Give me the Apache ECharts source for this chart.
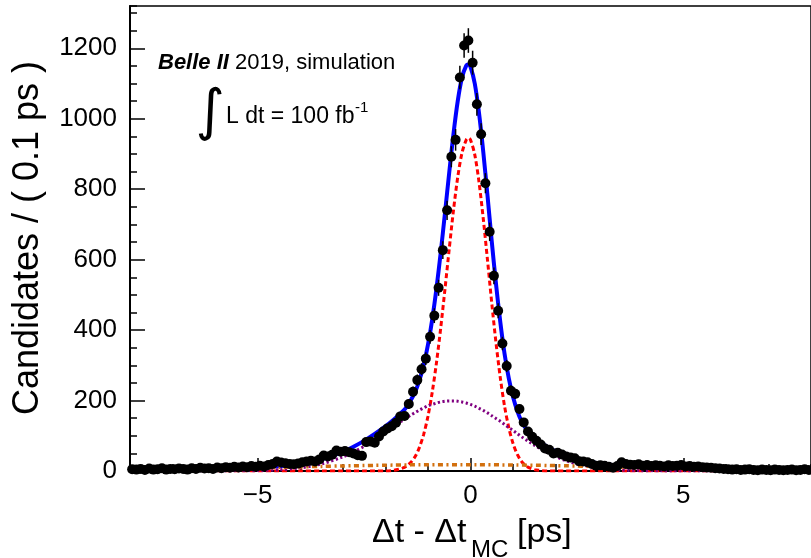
<!DOCTYPE html>
<html><head><meta charset="utf-8">
<script src="https://cdn.jsdelivr.net/npm/echarts@6/dist/echarts.min.js"></script>
<style>html,body{margin:0;padding:0;background:#fff}#c{width:811px;height:558px}</style>
</head><body><div id="c"></div>
<script>
// Histogram binning: Δt - Δt_MC from -8 to 8 ps, 0.1 ps bins
const binLow = -8;
const binWidth = 0.1;
const counts = [
  5,4,6,3,7,4,5,8,4,6, 5,7,6,4,8,6,9,7,8,6, 10,8,11,9,12,10,13,11,14,12,
  15,13,17,20,27,24,22,20,19,21,
  25,27,29,27,33,44,41,46,58,55,
  57,53,50,45,43,82,84,80,98,112,
  121,127,137,155,156,190,225,258,289,319,
  381,441,520,627,740,892,940,1117,1208,1222,
  1159,1041,956,817,679,554,455,362,298,228,
  219,176,138,112,97,86,75,64,60,50,
  52,47,41,38,36,28,27,25,20,15,
  16,15,12,9,14,25,20,18,17,19,
  15,17,14,16,15,13,16,14,15,17,
  13,14,12,13,11,10,9,8,7,6,
  5,4,5,3,4,5,3,2,4,3,
  2,4,3,2,3,4,2,3,5,3
];
// Fit curves sampled at these x positions
const curveX = [-8,-7,-6,-5.5,-5,-4.5,-4,-3.5,-3,-2.75,-2.5,-2.25,-2,-1.8,-1.6,-1.5,-1.4,-1.3,-1.2,-1.1,-1.0,-0.9,-0.8,-0.7,-0.6,-0.5,-0.4,-0.3,-0.2,-0.1,-0.05,0,0.1,0.2,0.3,0.4,0.5,0.6,0.7,0.8,0.9,1.0,1.1,1.2,1.3,1.4,1.5,1.6,1.8,2.0,2.25,2.5,2.75,3,3.5,4,4.5,5,5.5,6,7,8];
const totalFit = [3,4.4,6.6,8.1,10.2,13.8,20.4,33.1,54.3,68.9,85.5,105,126.4,145.8,168.1,182.2,201.4,224.5,257.6,300.7,357.7,429.8,517.9,619.9,732,847,957,1050,1117,1151,1154,1147,1100,1016,906,781,651,530,423,333,263,210,170,141,121,105,93,84,69,56,44,34,27,22,15,11,9,7.5,6.3,5.2,3.4,2.1];
const coreFit = [0,0,0,0,0,0,0,0,0,0,0,0,0,2,8,14,25,41,67,104,155,223,307,406,516,630,740,834,903,940,945,940,898,820,716,598,476,363,265,184,123,78,47,27,15,8,4,2,0,0,0,0,0,0,0,0,0,0,0,0,0,0];
const tailFit = [0,0,0.1,0.4,1.2,3.4,8.7,20,40,54,70,89,110,127,143,151,159,166,173,179,185,189,193,196,198,199,199,198,196,193,191,189,184,178,172,165,157,149,141,132,123,115,106,97,89,81,73,66,53,41,29,20,14,9,3,1,0.3,0,0,0,0,0];
const outlierFit = [2.8,4.4,6.5,7.7,9,10.4,11.7,13.1,14.3,14.9,15.5,16,16.4,16.8,17.1,17.2,17.4,17.5,17.6,17.7,17.7,17.8,17.9,17.9,18,18,18,18,18,18,18,18,17.9,17.9,17.8,17.7,17.6,17.5,17.4,17.3,17.2,17.1,16.9,16.8,16.6,16.4,16.3,16.1,15.7,15.3,14.7,14.1,13.4,12.8,11.5,10.1,8.8,7.5,6.3,5.2,3.4,2.1];
const xTickLabels = [-5, 0, 5];
const yTickLabels = [0, 200, 400, 600, 800, 1000, 1200];

const centers = counts.map((c, i) => +(binLow + binWidth * (i + 0.5)).toFixed(2));
const points = counts.map((c, i) => [centers[i], c]);
const errBars = counts.map((c, i) => [centers[i], c - Math.sqrt(c), c + Math.sqrt(c)]);
const zip = arr => curveX.map((x, i) => [x, arr[i]]);

const FONT = 'Liberation Sans';
const chart = echarts.init(document.getElementById('c'), null, {renderer: 'canvas'});
const curve = (arr, color, width, type, z) => ({
  type: 'line', data: zip(arr), showSymbol: false, smooth: 0.3, z: z, silent: true,
  lineStyle: {color: color, width: width, type: type}
});
chart.setOption({
  animation: false,
  backgroundColor: '#fff',
  grid: {left: 130, top: 6, right: -7, bottom: 87, show: true, borderColor: '#000', borderWidth: 1.5, containLabel: false},
  xAxis: [{
    type: 'value', min: -8, max: 8, position: 'bottom',
    axisLine: {onZero: false, lineStyle: {color: '#000', width: 2}},
    axisTick: {inside: true, length: 13, customValues: xTickLabels, lineStyle: {color: '#000', width: 1.5}},
    axisLabel: {customValues: xTickLabels, formatter: v => v < 0 ? '\u2212' + Math.abs(v) : String(v),
      fontSize: 26, color: '#000', fontFamily: FONT, margin: 12},
    splitLine: {show: false}
  }, {
    type: 'value', min: -8, max: 8, interval: 1, position: 'bottom',
    axisLine: {show: false, onZero: false},
    axisTick: {inside: true, length: 7, lineStyle: {color: '#000', width: 1.5}},
    axisLabel: {show: false}, splitLine: {show: false}
  }],
  yAxis: [{
    type: 'value', min: 0, max: 1320, position: 'left',
    axisLine: {show: true, onZero: false, lineStyle: {color: '#000', width: 2}},
    axisTick: {show: true, inside: true, length: 15, customValues: yTickLabels, lineStyle: {color: '#000', width: 1.5}},
    axisLabel: {customValues: yTickLabels, formatter: v => String(v), fontSize: 26, color: '#000', fontFamily: FONT, margin: 13},
    splitLine: {show: false}
  }, {
    type: 'value', min: 0, max: 1320, interval: 50, position: 'left',
    axisLine: {show: false, onZero: false},
    axisTick: {show: true, inside: true, length: 7, lineStyle: {color: '#000', width: 1.5}},
    axisLabel: {show: false}, splitLine: {show: false}
  }],
  series: [
    curve(totalFit, '#0000ff', 4, 'solid', 2),
    curve(coreFit, '#ff0000', 3, [5, 3], 3),
    curve(tailFit, '#800080', 3, [2.2, 2.5], 3),
    curve(outlierFit, '#d2700f', 3.5, [5, 3.5, 2, 3.5], 3),
    {type: 'custom', data: errBars, z: 5, clip: true, silent: true, encode: {x: 0, y: [1, 2]},
      renderItem: (params, api) => {
        const x = api.value(0);
        const p1 = api.coord([x, api.value(1)]), p2 = api.coord([x, api.value(2)]);
        return {type: 'line', shape: {x1: p1[0], y1: p1[1], x2: p2[0], y2: p2[1]},
          style: {stroke: '#000', lineWidth: 1.5}};
      }},
    {type: 'scatter', data: points, symbol: 'circle', symbolSize: 10, z: 6, silent: true,
      itemStyle: {color: '#000', opacity: 1}}
  ],
  graphic: [
    {type: 'text', x: 28, y: 238, rotation: Math.PI / 2,
      style: {text: 'Candidates / ( 0.1 ps )', font: '36px "Liberation Sans"', fill: '#000', align: 'center', verticalAlign: 'middle'}},
    {type: 'text', x: 372, y: 533,
      style: {text: '\u0394t - \u0394t', font: '34px "Liberation Sans"', fill: '#000', align: 'left', verticalAlign: 'middle'}},
    {type: 'text', x: 471, y: 550,
      style: {text: 'MC', font: '24px "Liberation Sans"', fill: '#000', align: 'left', verticalAlign: 'middle'}},
    {type: 'text', x: 517, y: 533,
      style: {text: '[ps]', font: '34px "Liberation Sans"', fill: '#000', align: 'left', verticalAlign: 'middle'}},
    {type: 'text', x: 158, y: 63,
      style: {text: '{b|Belle II}{n| 2019, simulation}', fill: '#000', align: 'left', verticalAlign: 'middle',
        rich: {b: {fontFamily: FONT, fontSize: 22, fontWeight: 'bold', fontStyle: 'italic', fill: '#000'},
               n: {fontFamily: FONT, fontSize: 22, fill: '#000'}}}},
    {type: 'text', x: 210, y: 114,
      style: {text: '\u222B', font: '56px "DejaVu Sans"', fill: '#000', align: 'center', verticalAlign: 'middle'}},
    {type: 'text', x: 226, y: 117,
      style: {text: 'L dt = 100 fb', font: '23px "Liberation Sans"', fill: '#000', align: 'left', verticalAlign: 'middle'}},
    {type: 'text', x: 355, y: 108,
      style: {text: '-1', font: '15px "Liberation Sans"', fill: '#000', align: 'left', verticalAlign: 'middle'}}
  ]
});
</script>
</body></html>
